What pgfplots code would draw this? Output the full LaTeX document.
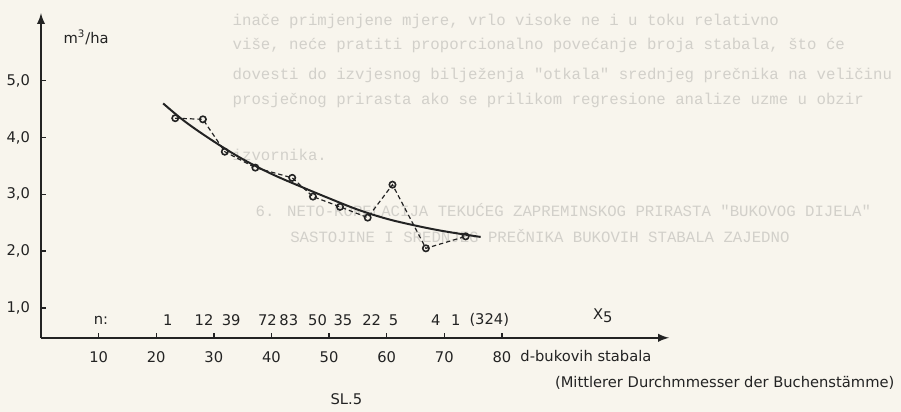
\documentclass[border=0pt]{standalone}
\usepackage{fontspec}
\setmainfont{DejaVu Sans}
\newfontfamily\ghostfont{Liberation Mono}
\usepackage{pgfplots}
\pgfplotsset{compat=1.18}

\definecolor{paper}{RGB}{248,245,237}
\definecolor{ink}{RGB}{35,35,35}
\definecolor{ghost}{RGB}{210,208,202}
\pagecolor{paper}

% 1 px of the scan = 0.5pt; x: 5.8 px per unit, y: 57.2 px per unit
\newcommand{\lab}{\fontsize{7.4}{8.8}\selectfont}
\newcommand{\gh}{\ghostfont\fontsize{7.9}{9.5}\selectfont}

\begin{document}
\begin{tikzpicture}
\begin{axis}[
    x=2.9pt, y=28.6pt,
    xmin=0, xmax=109,
    ymin=0.475, ymax=6.19,
    axis lines=left,
    axis line style={ink, line width=0.9pt, -latex},
    xtick={10,20,...,80},
    ytick={1,2,...,5},
    tick align=inside,
    major tick length=2.5pt,
    tick style={ink, line width=0.7pt},
    /pgf/number format/assume math mode=true,
    yticklabel style={font=\lab, text=ink, xshift=-2pt,
        /pgf/number format/.cd, use comma, fixed, fixed zerofill, precision=1},
    xticklabel style={font=\lab, text=ink, yshift=-3.5pt},
    clip=false,
]

% faint show-through text of the scanned page
\begin{scope}[every node/.style={anchor=west, text=ghost, font=\gh, inner sep=0pt}]
\node at (33.2,6.04) {inače primjenjene mjere, vrlo visoke ne i u toku relativno};
\node at (33.2,5.62) {više, neće pratiti proporcionalno povećanje broja stabala, što će};
\node at (33.2,5.10) {dovesti do izvjesnog bilježenja "otkala" srednjeg prečnika na veličinu};
\node at (33.2,4.66) {prosječnog prirasta ako se prilikom regresione analize uzme u obzir};
\node at (33.2,3.69) {izvornika.};
\node at (37.2,2.73) {6. NETO-KORELACIJA TEKUĆEG ZAPREMINSKOG PRIRASTA "BUKOVOG DIJELA"};
\node at (43.2,2.26) {SASTOJINE I SREDNJEG PREČNIKA BUKOVIH STABALA ZAJEDNO};
\end{scope}

% regression curve
\addplot[ink, line width=1pt, smooth, tension=0.6] coordinates {
    (21.2,4.60) (25,4.28) (30,3.93) (35,3.62) (40,3.36) (45,3.14)
    (50,2.93) (55,2.73) (60,2.57) (65,2.45) (70,2.35) (76.3,2.25)
};

% observed means
\addplot[ink, line width=0.6pt, dash pattern=on 2.2pt off 1.5pt,
    mark=o, mark size=1.6pt, mark options={solid, line width=0.8pt}] coordinates {
    (23.3,4.34) (28.1,4.32) (31.9,3.75) (37.2,3.47) (43.6,3.29) (47.2,2.96)
    (51.9,2.78) (56.7,2.59) (61.0,3.17) (66.8,2.05) (73.7,2.26)
};

% counts per class
\begin{scope}[every node/.style={text=ink, font=\lab}]
\node at (10.4,0.79) {n:};
\node at (22.0,0.79) {1};
\node at (28.3,0.79) {12};
\node at (33.0,0.79) {39};
\node at (39.3,0.79) {72};
\node at (43.0,0.79) {83};
\node at (48.0,0.79) {50};
\node at (52.4,0.79) {35};
\node at (57.4,0.79) {22};
\node at (61.2,0.79) {5};
\node at (68.5,0.79) {4};
\node at (72.0,0.79) {1};
\node at (77.8,0.79) {(324)};
\node[anchor=west] at (2.7,5.76) {m\textsuperscript{3}/ha};
\node at (97.5,0.86) {X\raisebox{-0.45ex}{5}};
\node[anchor=west] at (82.0,0.16) {d-bukovih stabala};
\node[anchor=west] at (88.0,-0.31) {(Mittlerer Durchmmesser der Buchenstämme)};
\node at (53.0,-0.61) {SL.5};
\end{scope}

% extent of the scanned page
\path (-6.81,-0.731) rectangle (148.5,6.42);
\end{axis}
\end{tikzpicture}
\end{document}
